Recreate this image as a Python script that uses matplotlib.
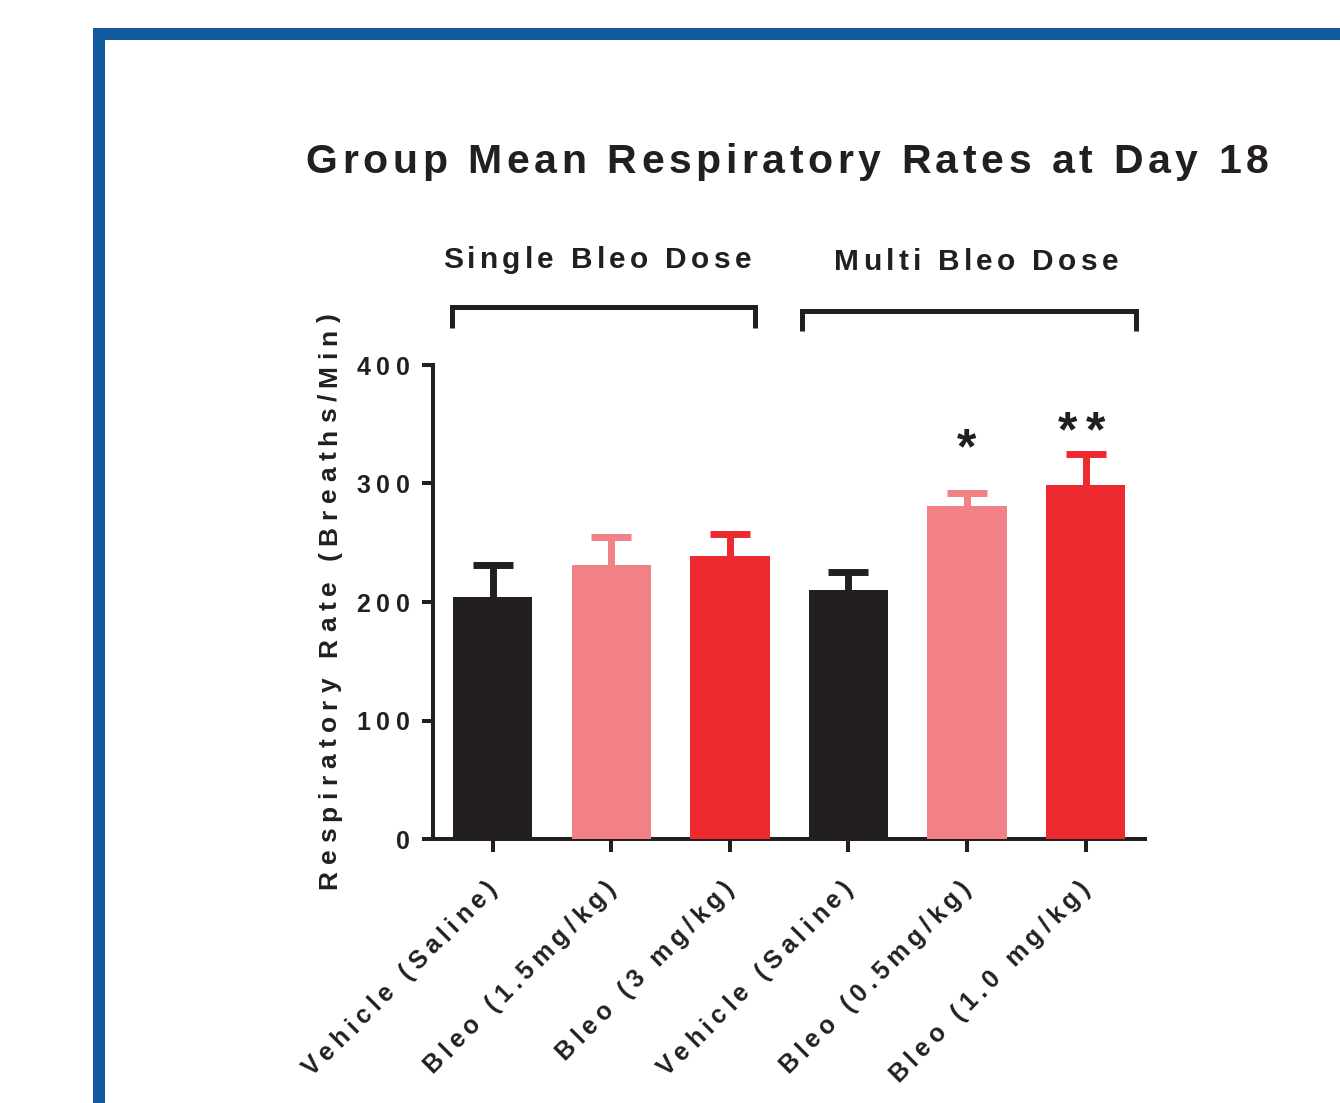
import numpy as np
import matplotlib
matplotlib.use("Agg")
import matplotlib.pyplot as plt
from matplotlib import font_manager
from matplotlib.font_manager import FontProperties
from matplotlib.ft2font import FT2Font
from matplotlib.lines import Line2D
from matplotlib.patches import Rectangle

# ---- data -------------------------------------------------------------
groups = ["Vehicle (Saline)", "Bleo (1.5mg/kg)", "Bleo (3 mg/kg)",
          "Vehicle (Saline)", "Bleo (0.5mg/kg)", "Bleo (1.0 mg/kg)"]
means = [204, 231, 239, 210, 281, 299]
sems = [27, 24, 18, 15, 11, 26]
bar_colors = ["#231f20", "#f28087", "#ec2a2f", "#231f20", "#f28087", "#ec2a2f"]
y_ticks = [0, 100, 200, 300, 400]
title = "Group Mean Respiratory Rates at Day 18"
y_label = "Respiratory Rate (Breaths/Min)"
dose_groups = ["Single Bleo Dose", "Multi Bleo Dose"]
significance = ["", "", "", "", "*", "**"]

# ---- figure geometry (pixels) ----------------------------------------
W, H, DPI = 1340, 1103, 100
INK = "#231f20"
FAMILY = "Liberation Sans"

fig = plt.figure(figsize=(W / DPI, H / DPI), dpi=DPI)
fig.patch.set_facecolor("white")

# blue frame along top and left edges
BLUE = "#115b9e"
fig.add_artist(Rectangle((93 / W, 0), 12 / W, 1 - 28 / H, transform=fig.transFigure,
                         color=BLUE, lw=0))
fig.add_artist(Rectangle((93 / W, 1 - 40 / H), 1 - 93 / W, 12 / H, transform=fig.transFigure,
                         color=BLUE, lw=0))

ax_l, ax_r, ax_b, ax_t = 433, 1145, 839, 365
ax = fig.add_axes([ax_l / W, 1 - ax_b / H, (ax_r - ax_l) / W, (ax_b - ax_t) / H])

x = np.arange(len(means))
ax.bar(x, means, width=0.667, color=bar_colors, zorder=3)
# upper error bars only: stem plus a flat cap in the bar's colour
ax.errorbar(x, means, yerr=[np.zeros(len(sems)), sems], fmt="none",
            ecolor=bar_colors, elinewidth=5, capsize=0, zorder=2)
for xi, m, s, c in zip(x, means, sems, bar_colors):
    ax.plot([xi], [m + s], marker="_", markersize=28.8, markeredgewidth=5, color=c,
            zorder=2, clip_on=False)

ax.set_xlim(-0.506, 5.502)
ax.set_ylim(0, 400)
ax.set_yticks(y_ticks)
ax.set_xticks(x)
ax.set_yticklabels([])
ax.set_xticklabels([])
for side in ("top", "right"):
    ax.spines[side].set_visible(False)
for side in ("left", "bottom"):
    ax.spines[side].set_linewidth(2.9)
    ax.spines[side].set_color(INK)
ax.tick_params(axis="y", length=8, width=2.9, color=INK)
ax.tick_params(axis="x", length=9.4, width=2.9, color=INK)

# ---- letter-spaced text ----------------------------------------------
_font = FT2Font(font_manager.findfont(FontProperties(family=FAMILY, weight="bold")))


def advances(s, size):
    _font.set_size(size, 72)
    return [_font.load_char(ord(ch)).linearHoriAdvance / 65536 * DPI / 72 for ch in s]


def tracked(px, py, s, size, track, angle=0.0, ha="left", va="baseline", color=INK):
    """Draw s with extra spacing between letters; px, py in image pixels (y down)."""
    adv = advances(s, size)
    total = sum(adv) + track * (len(s) - 1)
    c, sn = np.cos(np.radians(angle)), np.sin(np.radians(angle))
    shift = {"left": 0.0, "center": total / 2, "right": total}[ha]
    cap = 0.716 * size * DPI / 72
    voff = {"baseline": 0.0, "center": cap / 2, "top": cap}[va]
    X0 = px - shift * c + voff * sn
    Y0 = (H - py) - shift * sn - voff * c
    pos = 0.0
    for ch, a in zip(s, adv):
        fig.text((X0 + pos * c) / W, (Y0 + pos * sn) / H, ch, size=size, weight="bold",
                 family=FAMILY, rotation=angle, rotation_mode="anchor",
                 ha="left", va="baseline", color=color)
        pos += a + track


def to_px(xd, yd):
    X, Y = ax.transData.transform((xd, yd))
    return X, H - Y


# title and group headers
tracked(787, 173, title, 29.5, 4.6, ha="center")
tracked(597, 268, dose_groups[0], 21.5, 4.3, ha="center")
tracked(976, 270, dose_groups[1], 21.5, 4.3, ha="center")


# group brackets
def bracket(x0, x1, ytop, ybot):
    fig.add_artist(Line2D([x0 / W, x0 / W, x1 / W, x1 / W],
                          [1 - ybot / H, 1 - ytop / H, 1 - ytop / H, 1 - ybot / H],
                          transform=fig.transFigure, color=INK, lw=3.6,
                          solid_joinstyle="miter", solid_capstyle="butt"))


bracket(452, 755, 307, 328)
bracket(802, 1136, 311, 331)

# y tick labels
for v in y_ticks:
    px, py = to_px(-0.506, v)
    tracked(px - 23, py + 1, str(v), 18, 6, ha="right", va="center")

# y axis label
tracked(327, 601, y_label, 19, 6.5, angle=90, ha="center", va="center")

# x tick labels
for xi, lab in zip(x, groups):
    px, py = to_px(xi, 0)
    tracked(px - 1, py + 45, lab, 18, 5.3, angle=45, ha="right", va="center")

# significance marks
star_size = 36
star_em = star_size * DPI / 72
star_y = {4: 341, 5: 355}
for xi, mark in zip(x, significance):
    if not mark:
        continue
    offsets = [0.0] if len(mark) == 1 else [-0.15, 0.085]
    for off in offsets:
        px, py = to_px(xi + off, star_y[xi])
        fig.text(px / W, 1 - (py + 0.57 * star_em) / H, "*", size=star_size,
                 weight="bold", family=FAMILY, ha="center", va="baseline", color=INK)

fig.savefig("out.png", dpi=DPI, facecolor="white")
